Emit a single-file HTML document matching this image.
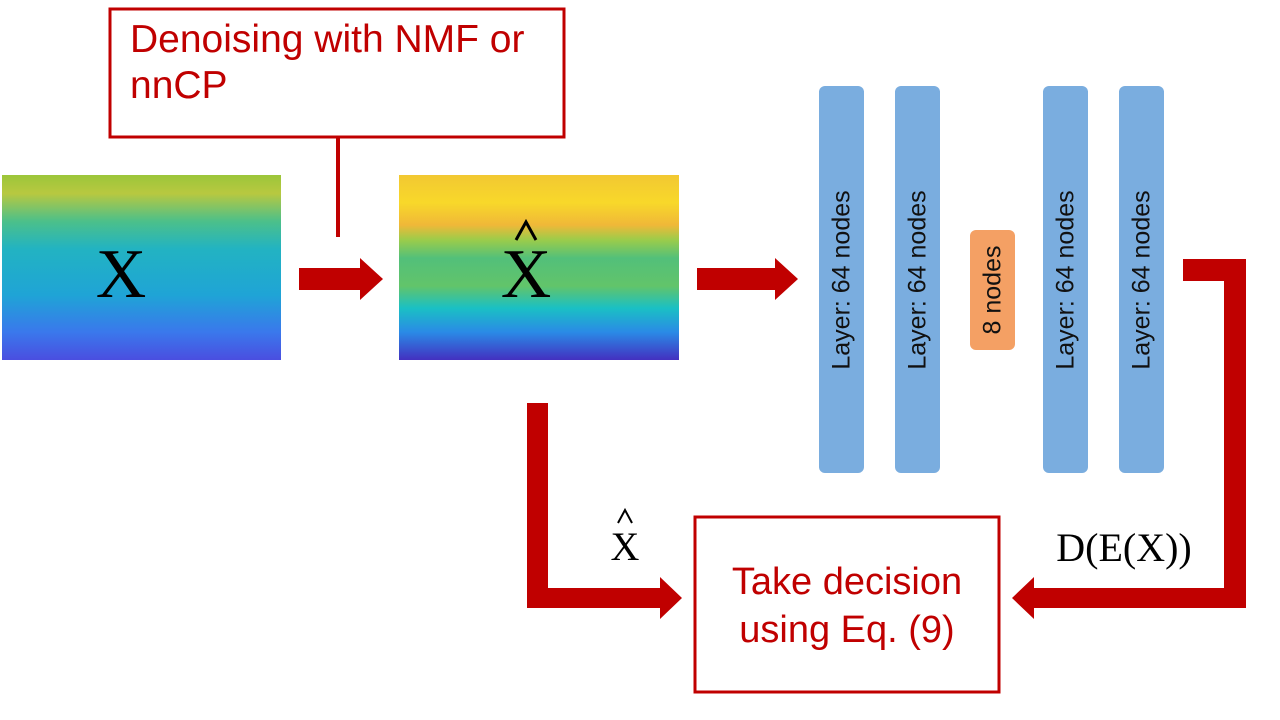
<!DOCTYPE html>
<html><head><meta charset="utf-8"><style>
body{margin:0;width:1280px;height:720px;background:#fff;overflow:hidden;position:relative;font-family:"Liberation Sans",sans-serif}
.a{position:absolute}
.layer{position:absolute;top:86px;width:45px;height:387px;background:#7aaddf;border-radius:6px}
.lt{position:absolute;left:50%;top:50%;transform:translate(-50%,-50%) rotate(-90deg);white-space:nowrap;font-size:25px;color:#111}
</style></head><body>
<svg class="a" style="left:0;top:0" width="1280" height="720">
<defs>
<linearGradient id="g1" x1="0" y1="0" x2="0" y2="1">
<stop offset="0" stop-color="#9cc63a"/><stop offset="0.1" stop-color="#b8c840"/><stop offset="0.25" stop-color="#4cc08a"/><stop offset="0.4" stop-color="#22b3c2"/><stop offset="0.65" stop-color="#1fa4d6"/><stop offset="0.85" stop-color="#3a78ec"/><stop offset="1" stop-color="#4a4ee0"/>
</linearGradient>
<linearGradient id="g2" x1="0" y1="0" x2="0" y2="1">
<stop offset="0" stop-color="#f2c832"/><stop offset="0.15" stop-color="#f8d82a"/><stop offset="0.27" stop-color="#f0b838"/><stop offset="0.35" stop-color="#9ccc4a"/><stop offset="0.45" stop-color="#52c07a"/><stop offset="0.6" stop-color="#62c46a"/><stop offset="0.72" stop-color="#1ac0c4"/><stop offset="0.85" stop-color="#2a8ae6"/><stop offset="1" stop-color="#4330c0"/>
</linearGradient>
</defs>
<rect x="2" y="175" width="279" height="185" fill="url(#g1)"/>
<rect x="399" y="175" width="280" height="185" fill="url(#g2)"/>
<text x="121" y="297" font-family="Liberation Serif" font-size="70" text-anchor="middle">X</text>
<text x="526" y="297" font-family="Liberation Serif" font-size="70" text-anchor="middle">X</text>
<polyline points="516,240 526,222 536,240" fill="none" stroke="#000" stroke-width="3"/>
<rect x="110" y="9" width="454" height="128" fill="none" stroke="#c00000" stroke-width="3"/>
<rect x="336" y="138" width="4" height="99" fill="#c00000"/>
<polygon points="299,268 360,268 360,258 383,279 360,300 360,290 299,290" fill="#c00000"/>
<polygon points="697,268 775,268 775,258 798,279 775,300 775,290 697,290" fill="#c00000"/>
<polygon points="1183,259 1246,259 1246,608 1034,608 1034,619 1012,598 1034,577 1034,588 1224,588 1224,281 1183,281" fill="#c00000"/>
<polygon points="527,403 548,403 548,588 660,588 660,577 682,598 660,619 660,608 527,608" fill="#c00000"/>
<rect x="695" y="517" width="304" height="175" fill="none" stroke="#c00000" stroke-width="3"/>
<text x="625" y="560" font-family="Liberation Serif" font-size="40" text-anchor="middle">X</text>
<polyline points="618,523 625,510 632,523" fill="none" stroke="#000" stroke-width="2"/>
<text x="1124" y="561" font-family="Liberation Serif" font-size="40" text-anchor="middle">D(E(X))</text>
</svg>
<div class="a" style="left:112px;top:17px;width:450px;font-size:39px;color:#c00000;line-height:46px;padding-left:18px;box-sizing:border-box;white-space:nowrap">Denoising with NMF or<br>nnCP</div>
<div class="a" style="left:697px;top:558px;width:300px;text-align:center;font-size:38px;color:#c00000;line-height:48px">Take decision<br>using Eq. (9)</div>
<div class="layer" style="left:819px"><div class="lt">Layer: 64 nodes</div></div>
<div class="layer" style="left:895px"><div class="lt">Layer: 64 nodes</div></div>
<div class="layer" style="left:1043px"><div class="lt">Layer: 64 nodes</div></div>
<div class="layer" style="left:1119px"><div class="lt">Layer: 64 nodes</div></div>
<div class="layer" style="left:970px;top:230px;height:120px;background:#f4a064"><div class="lt">8 nodes</div></div>
</body></html>
